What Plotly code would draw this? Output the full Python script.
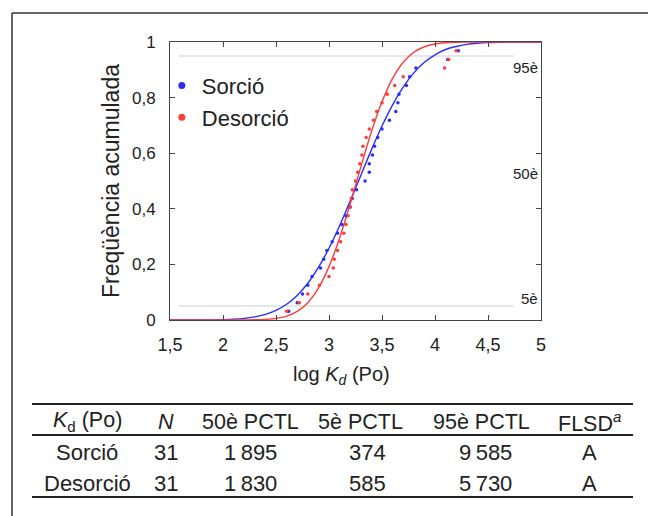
import plotly.graph_objects as go

# ---------------- data ----------------
n_points = 31
ecdf_y = [i / 32 for i in range(1, 32)]

sorcio_x = [2.62, 2.70, 2.75, 2.80, 2.84, 2.92, 2.95, 2.98, 3.03, 3.08, 3.12,
            3.16, 3.20, 3.22, 3.26, 3.34, 3.38, 3.38, 3.41, 3.43, 3.46, 3.50,
            3.57, 3.63, 3.65, 3.66, 3.73, 3.76, 3.82, 4.12, 4.22]
desorcio_x = [2.60, 2.72, 2.80, 2.91, 3.00, 3.04, 3.05, 3.08, 3.11, 3.14, 3.16,
              3.18, 3.20, 3.21, 3.22, 3.25, 3.27, 3.29, 3.31, 3.32, 3.35, 3.38,
              3.42, 3.45, 3.50, 3.55, 3.62, 3.70, 4.09, 4.13, 4.20]

curve_x = [1.5, 1.6, 1.7, 1.8, 1.9, 2.0, 2.1, 2.2, 2.3, 2.4, 2.5, 2.6, 2.7, 2.8,
           2.9, 3.0, 3.1, 3.2, 3.3, 3.4, 3.5, 3.6, 3.7, 3.8, 3.9, 4.0, 4.1, 4.2,
           4.3, 4.4, 4.5, 4.6, 4.7, 4.8, 4.9, 5.0]
sorcio_fit = [0.0, 0.0, 0.0001, 0.0003, 0.0006, 0.0014, 0.003, 0.0059, 0.0112,
              0.0201, 0.0345, 0.0566, 0.0885, 0.132, 0.189, 0.258, 0.339, 0.428,
              0.52, 0.612, 0.698, 0.774, 0.838, 0.889, 0.927, 0.954, 0.973,
              0.984, 0.9915, 0.9956, 0.9978, 0.999, 0.9995, 0.9998, 0.9999, 1.0]
desorcio_fit = [0.0, 0.0, 0.0, 0.0, 0.0, 0.0, 0.0001, 0.0002, 0.0007, 0.0021,
                0.0057, 0.0139, 0.031, 0.0624, 0.1145, 0.192, 0.295, 0.418, 0.55,
                0.677, 0.785, 0.869, 0.927, 0.963, 0.983, 0.9929, 0.9973, 0.9991,
                0.9997, 0.9999, 1.0, 1.0, 1.0, 1.0, 1.0, 1.0]

pctl_levels = [0.05, 0.95]
pctl_labels = ["95è", "50è", "5è"]
pctl_label_y = [0.908, 0.527, 0.079]

table_header = ["<i>K</i><sub>d</sub> (Po)", "<i>N</i>", "50è PCTL", "5è PCTL",
                "95è PCTL", "FLSD<sup><i>a</i></sup>"]
table_rows = [
    ["Sorció", "31", "1\u2009895", "374", "9\u2009585", "A"],
    ["Desorció", "31", "1\u2009830", "585", "5\u2009730", "A"],
]

BLUE = "#2a2cff"
RED = "#ff3b3b"
FONT = "Liberation Sans, Arial, sans-serif"

fig = go.Figure()

# percentile reference lines
for lv in pctl_levels:
    fig.add_trace(go.Scatter(x=[1.58, 4.74], y=[lv, lv], mode="lines",
                             line=dict(color="#e6e6e6", width=2),
                             showlegend=False, hoverinfo="skip"))

fig.add_trace(go.Scatter(x=curve_x, y=sorcio_fit, mode="lines", line_shape="spline",
                         line=dict(color=BLUE, width=1.4), showlegend=False))
fig.add_trace(go.Scatter(x=curve_x, y=desorcio_fit, mode="lines", line_shape="spline",
                         line=dict(color=RED, width=1.4), showlegend=False))
fig.add_trace(go.Scatter(x=sorcio_x, y=ecdf_y, mode="markers", name="Sorció",
                         marker=dict(color=BLUE, size=3.5), showlegend=False))
fig.add_trace(go.Scatter(x=desorcio_x, y=ecdf_y, mode="markers", name="Desorció",
                         marker=dict(color=RED, size=3.5), showlegend=False))
# legend entries
fig.add_trace(go.Scatter(x=[None], y=[None], mode="markers", name="Sorció",
                         marker=dict(color=BLUE, size=7)))
fig.add_trace(go.Scatter(x=[None], y=[None], mode="markers", name="Desorció",
                         marker=dict(color=RED, size=7)))

W, H = 648, 516
L, R, T, B = 170, 541, 42, 320


def px2x(px):
    return (px - L) / (R - L)


def py2y(py):
    return (B - py) / (B - T)


shapes = []
# outer frame (top and left)
shapes.append(dict(type="line", xref="paper", yref="paper",
                   x0=px2x(12), x1=px2x(660), y0=py2y(13), y1=py2y(13),
                   line=dict(color="#333", width=1.5)))
shapes.append(dict(type="line", xref="paper", yref="paper",
                   x0=px2x(12), x1=px2x(12), y0=py2y(13), y1=py2y(530),
                   line=dict(color="#333", width=1.5)))
# table rules
for py in [404, 435, 497]:
    shapes.append(dict(type="line", xref="paper", yref="paper",
                       x0=px2x(32), x1=px2x(633), y0=py2y(py), y1=py2y(py),
                       line=dict(color="#222", width=2)))

annotations = []
for lab, yv in zip(pctl_labels, pctl_label_y):
    annotations.append(dict(x=5.0, y=yv, xref="x", yref="y", text=lab,
                            showarrow=False, xanchor="right", yanchor="middle",
                            xshift=-1, font=dict(size=15, color="#222", family=FONT)))

# x-axis title (offset to the left as in the reference)
annotations.append(dict(x=px2x(341), y=py2y(375), xref="paper", yref="paper",
                        text="log <i>K</i><sub><i>d</i></sub> (Po)", showarrow=False,
                        xanchor="center", yanchor="middle",
                        font=dict(size=20, color="#222", family=FONT)))

head_x = [87, 166, 250, 360, 481, 589]
body_x = [87, 166, 250, 367, 485, 589]
row_y = [421.5, 452, 483.5]
for cx, txt in zip(head_x, table_header):
    annotations.append(dict(x=px2x(cx), y=py2y(row_y[0]), xref="paper", yref="paper",
                            text=txt, showarrow=False, xanchor="center", yanchor="middle",
                            font=dict(size=21.5, color="#222", family=FONT)))
for r, row in enumerate(table_rows):
    for cx, txt in zip(body_x, row):
        annotations.append(dict(x=px2x(cx), y=py2y(row_y[r + 1]), xref="paper",
                                yref="paper", text=txt, showarrow=False,
                                xanchor="center", yanchor="middle",
                                font=dict(size=22, color="#222", family=FONT)))

fig.update_layout(
    width=W, height=H,
    margin=dict(l=L, r=W - R, t=T, b=H - B),
    paper_bgcolor="white", plot_bgcolor="white",
    separators=", ",
    font=dict(family=FONT, size=17, color="#222"),
    showlegend=True,
    legend=dict(x=-0.022, y=0.918, xanchor="left", yanchor="top",
                bgcolor="rgba(0,0,0,0)", font=dict(size=22, color="#222"),
                itemsizing="trace", tracegroupgap=0),
    shapes=shapes, annotations=annotations,
)
fig.update_xaxes(range=[1.5, 5], tickvals=[1.5, 2, 2.5, 3, 3.5, 4, 4.5, 5],
                 showline=True, linecolor="#444", linewidth=1, mirror="ticks",
                 ticks="inside", ticklen=5, tickcolor="#444", showgrid=False,
                 zeroline=False, tickfont=dict(size=18), ticklabelstandoff=8)
fig.update_yaxes(range=[0, 1], tickvals=[0, 0.2, 0.4, 0.6, 0.8, 1],
                 showline=True, linecolor="#444", linewidth=1, mirror="ticks",
                 ticks="inside", ticklen=5, tickcolor="#444", showgrid=False,
                 zeroline=False, tickfont=dict(size=17), ticklabelstandoff=10,
                 title=dict(text="Freqüència acumulada", font=dict(size=23), standoff=5))

fig.write_html("out.html")
